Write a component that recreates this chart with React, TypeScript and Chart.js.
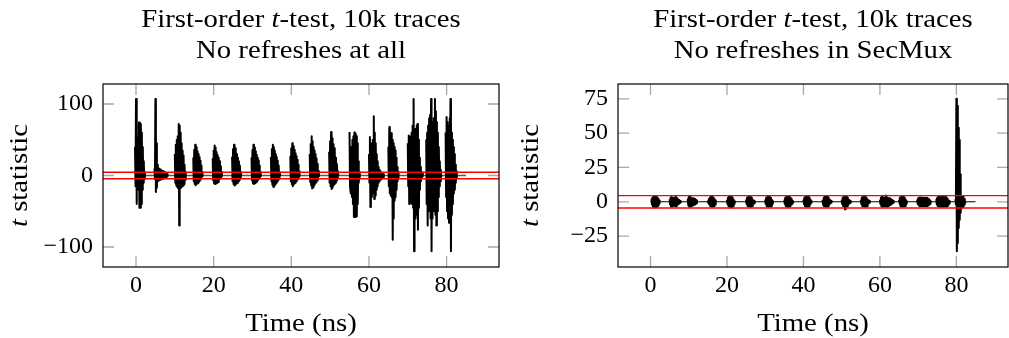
import React, { useEffect, useRef } from "react";
import { Chart, registerables } from "chart.js";

Chart.register(...registerables);

const FONT = "'Liberation Serif', 'Times New Roman', serif";

// ---------- axes ----------
const xMin = -8.5;
const xMax = 93.5;
const xTicks = [0, 20, 40, 60, 80];
const leftYMin = -128;
const leftYMax = 128;
const leftYTicks = [-100, 0, 100];
const rightYMin = -47.5;
const rightYMax = 85.8;
const rightYTicks = [-25, 0, 25, 50, 75];
const threshold = 4.5;
const traceStart = 0;
const traceEnd = 85;
const sampleStep = 0.25;

// ---------- texts ----------
const titleLine1: [string, boolean][] = [["First-order ", false], ["t", true], ["-test, 10k traces", false]];
const leftSubtitle = "No refreshes at all";
const rightSubtitle = "No refreshes in SecMux";
const xLabel = "Time (ns)";
const yLabel: [string, boolean][] = [["t", true], [" statistic", false]];

// ---------- left panel: bursts (start time, upper / lower extremes per sample) ----------
const leftBurstStarts = [-0.25, 4.75, 10.0, 14.75, 19.75, 24.75, 29.75, 34.75, 39.75, 44.75, 49.75, 55.0, 60.0, 65.0, 70.0, 74.75, 79.75];
const leftBurstHighs = [
  [40, 107, 55, 53, 74, 74, 72, 60, 40, 20, 5],
  [10, 107, 45, 15, 10, 9, 8, 7, 6, 6, 5, 4, 3, 2],
  [30, 43, 50, 55, 72, 70, 60, 45, 35, 28, 15, 5],
  [25, 36, 43, 40, 34, 30, 26, 21, 14, 5],
  [24, 35, 42, 39, 33, 29, 25, 20, 13, 5],
  [26, 37, 43, 38, 33, 30, 25, 20, 14, 5],
  [25, 36, 43, 39, 34, 29, 25, 21, 14, 5],
  [26, 37, 43, 40, 35, 30, 26, 21, 14, 5],
  [27, 38, 45, 41, 36, 31, 27, 22, 15, 6],
  [30, 44, 55, 48, 40, 35, 30, 24, 16, 6],
  [33, 48, 61, 52, 44, 38, 32, 25, 16, 6],
  [61, 40, 38, 50, 55, 60, 58, 55, 45, 20, 5],
  [30, 54, 45, 40, 50, 83, 60, 45, 30, 20, 12, 8, 6, 4, 3, 2],
  [40, 68, 55, 59, 50, 45, 40, 35, 25, 12, 5],
  [45, 56, 50, 55, 60, 70, 107, 60, 65, 70, 72, 50, 25, 12, 5, 3],
  [50, 60, 70, 80, 85, 107, 75, 70, 80, 107, 90, 75, 60, 40, 20, 8],
  [60, 82, 75, 70, 80, 107, 60, 50, 40, 30, 15, 6],
];
const leftBurstLows = [
  [-15, -40, -20, -18, -45, -45, -40, -20, -10, -5, -2],
  [-5, -23, -17, -8, -7, -6, -6, -5, -5, -4, -3, -2, -2, -1],
  [-10, -14, -16, -18, -70, -18, -16, -15, -14, -12, -6, -2],
  [-8, -12, -13.5, -12, -11, -10, -8, -6, -3, -1],
  [-7, -11, -12, -11, -10, -9, -7, -5, -3, -1],
  [-8, -12, -14, -13, -11, -10, -8, -6, -3, -1],
  [-7, -11, -12, -11, -10, -9, -7, -5, -3, -1],
  [-8, -13, -16, -14, -12, -10, -8, -6, -3, -1],
  [-8, -12, -15, -13, -11, -10, -8, -6, -3, -1],
  [-9, -14, -18, -16, -13, -11, -9, -7, -4, -1],
  [-10, -15, -19, -17, -14, -12, -10, -7, -4, -1],
  [-15, -25, -30, -40, -58, -58, -58, -57, -40, -10, -3],
  [-10, -44, -30, -25, -25, -33, -28, -20, -15, -10, -8, -6, -5, -4, -3, -1],
  [-15, -25, -28, -30, -90, -60, -35, -30, -20, -8, -3],
  [-15, -40, -35, -38, -40, -45, -106, -60, -50, -55, -76, -45, -20, -8, -3, -1],
  [-40, -70, -50, -45, -60, -106, -60, -45, -50, -55, -70, -50, -30, -15, -8, -3],
  [-30, -50, -60, -66, -65, -106, -55, -40, -25, -20, -10, -3],
];

// ---------- right panel: blobs ----------
const rightBlobStarts = [0.25, 5.0, 9.75, 15.0, 20.0, 25.0, 30.0, 35.0, 40.0, 45.0, 50.0, 55.0, 60.0, 65.0, 69.75, 74.75, 79.75];
const rightBlobHighs = [
  [2, 3, 3.5, 3.5, 3.5, 3.5, 3, 2, 1],
  [2, 3, 3.5, 3, 2.5, 3, 3.5, 3, 2, 1.5, 1, 0.5],
  [2.5, 3.5, 3.5, 3.5, 2.5, 2.5, 2.5, 2, 1.5, 1],
  [1, 2, 3, 3.5, 4, 3.5, 3, 2, 1],
  [1.5, 3, 3.5, 4, 4, 3.5, 3, 1.5, 0.5],
  [1.5, 3, 3.5, 3.5, 3.5, 3.5, 3, 1.5, 1, 0.5],
  [1.5, 3, 3.5, 3.5, 3.5, 3.5, 3, 1.5, 0.5],
  [1.5, 3, 3.5, 3, 3.5, 3.5, 3, 2, 1, 0.5],
  [1.5, 3, 3.5, 4, 3.5, 3.5, 3, 1.5, 0.5],
  [1.5, 3, 3.5, 3.5, 3.5, 3.5, 3, 1.5, 1, 0.5],
  [1.5, 3, 3.5, 3.5, 3.5, 3.5, 3, 1.5, 1, 0.5],
  [1.5, 3, 3.5, 3.5, 3.5, 3.5, 3, 1.5, 1, 0.5],
  [1.5, 3, 3.5, 3.5, 3, 3, 4.5, 3.5, 3, 2.5, 2.5, 2, 1.5, 1, 0.5],
  [1.5, 3, 3.5, 3.5, 3.5, 3.5, 3, 1.5, 0.5],
  [1.5, 2.5, 3, 3, 3, 3, 3, 3, 2.5, 3, 3, 2.5, 2, 1.5, 0.5],
  [2, 3, 3.5, 3.5, 3, 3.5, 3.5, 3.5, 3, 3.5, 3.5, 3, 2, 1, 0.5],
  [2, 75, 70, 54, 45, 20, 4, 4, 3.5, 2, 1],
];
const rightBlobLows = [
  [-2, -3.5, -4, -4, -4, -4, -3.5, -2.5, -1],
  [-2, -3.5, -3.5, -3, -2.5, -3, -3.5, -3, -2, -1.5, -1, -0.5],
  [-2.5, -3.5, -3.5, -3.5, -2.5, -2.5, -2.5, -2, -1.5, -1],
  [-1, -2, -3, -3.5, -3.5, -3.5, -3, -2, -1],
  [-1.5, -3, -3.5, -4, -4, -3.5, -3, -1.5, -0.5],
  [-1.5, -3, -3.5, -3.5, -3.5, -3.5, -3, -1.5, -1, -0.5],
  [-1.5, -3, -3.5, -3.5, -3.5, -3.5, -3, -1.5, -0.5],
  [-1.5, -3, -3.5, -3.5, -3.5, -3.5, -3, -2, -1, -0.5],
  [-1.5, -3, -3.5, -3.5, -3.5, -3.5, -3, -1.5, -0.5],
  [-1.5, -3, -3.5, -3.5, -3.5, -3.5, -3, -1.5, -1, -0.5],
  [-1.5, -3, -3.5, -5.5, -3.5, -3.5, -3, -1.5, -1, -0.5],
  [-1.5, -3, -3.5, -3.5, -3.5, -3.5, -3, -1.5, -1, -0.5],
  [-1.5, -3, -3.5, -3.5, -3, -3, -3.5, -3.5, -3, -2.5, -2.5, -2, -1.5, -1, -0.5],
  [-1.5, -3, -3.5, -3.5, -3.5, -3.5, -3, -1.5, -0.5],
  [-1.5, -2.5, -3, -3, -3, -3, -3, -3, -2.5, -3, -3, -2.5, -2, -1.5, -0.5],
  [-2, -3, -3.5, -3.5, -3, -3.5, -3.5, -3.5, -3, -3.5, -3.5, -3, -2, -1, -0.5],
  [-2, -36, -30, -19, -13, -8, -4, -4, -3.5, -2, -1],
];

// ---------- helpers ----------
function fmt(v: number) {
  return v < 0 ? "\u2212" + Math.abs(v) : String(v);
}

function buildBursts(starts: number[], highs: number[][], lows: number[][], step: number) {
  return starts.map((s, b) => {
    const pts: { x: number; y: number }[] = [];
    highs[b].forEach((h, i) => {
      pts.push({ x: s + i * step, y: h });
      pts.push({ x: s + i * step + step / 2, y: lows[b][i] });
    });
    return pts;
  });
}

const TEXT_SIZE = 25;
const TEXT_STRETCH = 1.15;

function drawParts(ctx: CanvasRenderingContext2D, parts: [string, boolean][], x: number, y: number, size: number) {
  const fonts = parts.map(([, it]) => `${it ? "italic " : ""}${size}px ${FONT}`);
  const widths = parts.map(([t], i) => {
    ctx.font = fonts[i];
    return ctx.measureText(t).width;
  });
  const total = widths.reduce((a, b) => a + b, 0);
  ctx.save();
  ctx.translate(x, y);
  ctx.scale(TEXT_STRETCH, 1);
  let cx = -total / 2;
  ctx.textAlign = "left";
  ctx.textBaseline = "alphabetic";
  parts.forEach(([t], i) => {
    ctx.font = fonts[i];
    ctx.fillText(t, cx, 0);
    cx += widths[i];
  });
  ctx.restore();
}

const framePlugin = {
  id: "pgfFrame",
  afterDatasetsDraw(chart: any) {
    const { ctx, chartArea: a, scales } = chart;
    ctx.save();
    ctx.strokeStyle = "#a8a8a8";
    ctx.lineWidth = 1.3;
    const L = 11;
    ctx.beginPath();
    for (const t of scales.x.ticks) {
      const px = scales.x.getPixelForValue(t.value);
      ctx.moveTo(px, a.top);
      ctx.lineTo(px, a.top + L);
      ctx.moveTo(px, a.bottom);
      ctx.lineTo(px, a.bottom - L);
    }
    for (const t of scales.y.ticks) {
      const py = scales.y.getPixelForValue(t.value);
      ctx.moveTo(a.left, py);
      ctx.lineTo(a.left + L, py);
      ctx.moveTo(a.right, py);
      ctx.lineTo(a.right - L, py);
    }
    ctx.stroke();
    ctx.strokeStyle = "#000";
    ctx.lineWidth = 1.2;
    ctx.strokeRect(a.left, a.top, a.right - a.left, a.bottom - a.top);
    ctx.restore();
  },
  afterDraw(chart: any, _args: any, opts: any) {
    const { ctx, chartArea: a } = chart;
    const cx = (a.left + a.right) / 2;
    ctx.save();
    ctx.fillStyle = "#000";
    drawParts(ctx, titleLine1, cx, 27, TEXT_SIZE);
    drawParts(ctx, [[opts.subtitle, false]], cx, 58, TEXT_SIZE);
    drawParts(ctx, [[xLabel, false]], cx, 331, TEXT_SIZE);
    ctx.translate(a.left - opts.yLabelOffset, (a.top + a.bottom) / 2);
    ctx.rotate(-Math.PI / 2);
    drawParts(ctx, yLabel, 0, 0, TEXT_SIZE);
    ctx.restore();
  },
};

function makeScale(min: number, max: number, ticks: number[], isX: boolean, fit: number) {
  return {
    type: "linear",
    min,
    max,
    grid: { display: false, drawTicks: false },
    border: { display: false },
    ticks: {
      color: "#000",
      font: { family: FONT, size: 24 },
      padding: isX ? 4 : 10,
      maxRotation: 0,
      autoSkip: false,
      includeBounds: false,
      callback: (v: number) => fmt(v),
    },
    afterBuildTicks: (s: any) => {
      s.ticks = ticks.map((value) => ({ value }));
    },
    afterFit: (s: any) => {
      if (isX) s.height = fit;
      else s.width = fit;
    },
  };
}

function makeConfig(
  bursts: { x: number; y: number }[][],
  yMin: number,
  yMax: number,
  yTicks: number[],
  yWidth: number,
  rightPad: number,
  baseColor: string,
  baseWidth: number,
  subtitle: string,
  yLabelOffset: number
): any {
  const datasets: any[] = [];
  [threshold, -threshold].forEach((v) =>
    datasets.push({
      data: [
        { x: xMin, y: v },
        { x: xMax, y: v },
      ],
      showLine: true,
      borderColor: "#ff0000",
      borderWidth: 1.4,
      pointRadius: 0,
      order: 0,
    })
  );
  bursts.forEach((pts) =>
    datasets.push({
      data: pts,
      showLine: true,
      borderColor: "#000",
      borderWidth: 2,
      borderJoinStyle: "round",
      pointRadius: 0,
      order: 1,
    })
  );
  datasets.push({
    data: [
      { x: traceStart, y: 0 },
      { x: traceEnd, y: 0 },
    ],
    showLine: true,
    borderColor: baseColor,
    borderWidth: baseWidth,
    pointRadius: 0,
    order: 2,
  });
  return {
    type: "scatter",
    data: { datasets },
    options: {
      responsive: false,
      animation: false,
      devicePixelRatio: 1,
      layout: { padding: { top: 84, right: rightPad, left: 0, bottom: 0 } },
      plugins: {
        legend: { display: false },
        tooltip: { enabled: false },
        title: { display: false },
        pgfFrame: { subtitle, yLabelOffset },
      },
      scales: {
        x: makeScale(xMin, xMax, xTicks, true, 71),
        y: makeScale(yMin, yMax, yTicks, false, yWidth),
      },
    },
    plugins: [framePlugin],
  };
}

export default function App() {
  const leftRef = useRef<HTMLCanvasElement>(null);
  const rightRef = useRef<HTMLCanvasElement>(null);
  useEffect(() => {
    const leftBursts = buildBursts(leftBurstStarts, leftBurstHighs, leftBurstLows, sampleStep);
    const rightBursts = buildBursts(rightBlobStarts, rightBlobHighs, rightBlobLows, sampleStep);
    const c1 = new Chart(
      leftRef.current as HTMLCanvasElement,
      makeConfig(leftBursts, leftYMin, leftYMax, leftYTicks, 103, 6, "#5a5a5a", 1.6, leftSubtitle, 76)
    );
    const c2 = new Chart(
      rightRef.current as HTMLCanvasElement,
      makeConfig(rightBursts, rightYMin, rightYMax, rightYTicks, 113, 1, "#000", 1.1, rightSubtitle, 80)
    );
    return () => {
      c1.destroy();
      c2.destroy();
    };
  }, []);
  return (
    <div style={{ position: "absolute", left: 0, top: 0, width: 1009, height: 338, background: "#fff" }}>
      <canvas
        ref={leftRef}
        width={505}
        height={338}
        style={{ position: "absolute", left: 0, top: 0, width: 505, height: 338 }}
      />
      <canvas
        ref={rightRef}
        width={504}
        height={338}
        style={{ position: "absolute", left: 505, top: 0, width: 504, height: 338 }}
      />
    </div>
  );
}
